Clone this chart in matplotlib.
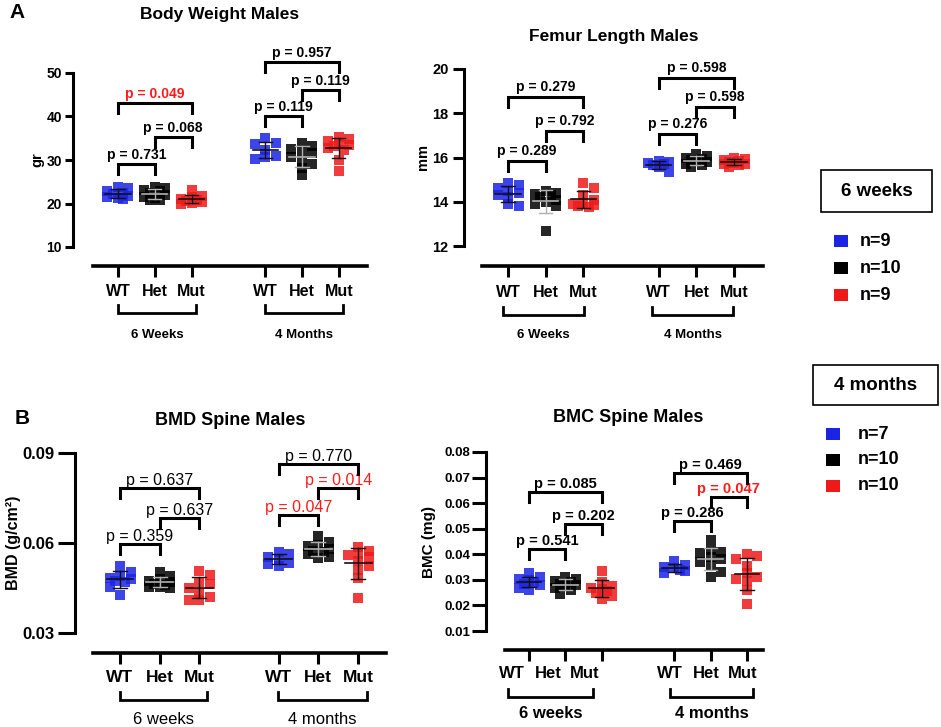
import numpy as np
import matplotlib
matplotlib.use("Agg")
import matplotlib.pyplot as plt
from matplotlib import font_manager, transforms
from matplotlib.patches import Rectangle

W, H, DPI = 941, 727, 100

# ------------------------------------------------------------------ data
categories = ["WT", "Het", "Mut"]
groups_A = ["6 Weeks", "4 Months"]
groups_B = ["6 weeks", "4 months"]
genotype_colors = ["#1c24e4", "#000000", "#ee1a1a"]
legend_titles = ["6 weeks", "4 months"]
legend_n_6wk = [9, 10, 9]
legend_n_4mo = [7, 10, 10]

# Body weight (gr)
bw_6wk_wt = [23.8, 23.5, 22.9, 22.4, 22.1, 21.8, 21.5, 21.2, 21.0]
bw_6wk_het = [23.9, 23.6, 23.2, 22.8, 22.3, 21.9, 21.6, 21.2, 20.9, 20.7]
bw_6wk_mut = [23.2, 21.8, 21.4, 21.1, 20.9, 20.6, 20.4, 20.2, 19.9]
bw_4mo_wt = [35.0, 34.0, 33.6, 32.2, 31.0, 30.6, 30.2]
bw_4mo_het = [34.0, 33.3, 32.6, 32.0, 31.5, 30.6, 29.8, 29.0, 28.2, 26.5]
bw_4mo_mut = [35.3, 34.8, 34.3, 33.8, 33.5, 33.2, 32.8, 32.3, 30.0, 27.5]
bw_yticks = [10, 20, 30, 40, 50]
bw_p_text = ["p = 0.731", "p = 0.068", "p = 0.049", "p = 0.119", "p = 0.119", "p = 0.957"]
bw_p_y = [29.1, 35.3, 43.1, 40.1, 46.1, 52.5]
bw_p_sig = [False, False, True, False, False, False]

# Femur length (mm)
fl_6wk_wt = [14.85, 14.75, 14.6, 14.5, 14.4, 14.3, 14.2, 13.9, 13.8]
fl_6wk_het = [14.5, 14.4, 14.35, 14.3, 14.2, 14.1, 14.0, 13.9, 13.8, 12.7]
fl_6wk_mut = [14.85, 14.6, 14.3, 14.1, 13.95, 13.9, 13.85, 13.8, 13.75]
fl_4mo_wt = [15.85, 15.8, 15.75, 15.7, 15.65, 15.55, 15.35]
fl_4mo_het = [16.15, 16.05, 16.0, 15.95, 15.9, 15.85, 15.8, 15.7, 15.65, 15.55]
fl_4mo_mut = [16.0, 15.95, 15.9, 15.85, 15.8, 15.75, 15.7, 15.7, 15.65, 15.55]
fl_yticks = [12, 14, 16, 18, 20]
fl_p_text = ["p = 0.289", "p = 0.792", "p = 0.279", "p = 0.276", "p = 0.598", "p = 0.598"]
fl_p_y = [15.85, 17.2, 18.75, 17.05, 18.3, 19.6]
fl_p_sig = [False] * 6

# BMD spine (g/cm2)
bmd_6wk_wt = [0.0525, 0.0505, 0.049, 0.0485, 0.048, 0.0475, 0.047, 0.0455, 0.0428]
bmd_6wk_het = [0.0505, 0.049, 0.048, 0.0475, 0.047, 0.0465, 0.046, 0.0455, 0.0455, 0.045]
bmd_6wk_mut = [0.0507, 0.0495, 0.047, 0.0465, 0.045, 0.0435, 0.042, 0.041, 0.041]
bmd_4mo_wt = [0.057, 0.0565, 0.0555, 0.0545, 0.0535, 0.053, 0.0525]
bmd_4mo_het = [0.0625, 0.0605, 0.0595, 0.059, 0.058, 0.0575, 0.057, 0.0565, 0.0555, 0.055]
bmd_4mo_mut = [0.0588, 0.0575, 0.0565, 0.056, 0.0555, 0.054, 0.0525, 0.051, 0.0485, 0.0418]
bmd_yticks = [0.03, 0.06, 0.09]
bmd_p_text = ["p = 0.359", "p = 0.637", "p = 0.637", "p = 0.047", "p = 0.014", "p = 0.770"]
bmd_p_y = [0.0598, 0.0683, 0.0783, 0.0693, 0.0783, 0.0863]
bmd_p_sig = [False, False, False, True, True, False]

# BMC spine (mg)
bmc_6wk_wt = [0.0325, 0.031, 0.0305, 0.030, 0.029, 0.0285, 0.028, 0.027, 0.026]
bmc_6wk_het = [0.031, 0.0305, 0.0295, 0.029, 0.0285, 0.028, 0.0275, 0.027, 0.026, 0.0245]
bmc_6wk_mut = [0.0335, 0.029, 0.0275, 0.027, 0.0265, 0.0255, 0.025, 0.0235, 0.0225]
bmc_4mo_wt = [0.0375, 0.036, 0.035, 0.0345, 0.034, 0.0335, 0.0325]
bmc_4mo_het = [0.0455, 0.0415, 0.041, 0.0405, 0.039, 0.038, 0.037, 0.0355, 0.033, 0.031]
bmc_4mo_mut = [0.040, 0.0395, 0.038, 0.0355, 0.0325, 0.031, 0.0305, 0.0295, 0.026, 0.0205]
bmc_yticks = [0.01, 0.02, 0.03, 0.04, 0.05, 0.06, 0.07, 0.08]
bmc_p_text = ["p = 0.541", "p = 0.202", "p = 0.085", "p = 0.286", "p = 0.047", "p = 0.469"]
bmc_p_y = [0.0421, 0.0519, 0.0644, 0.053, 0.0624, 0.0718]
bmc_p_sig = [False, False, False, False, True, False]

p_pairs = [(0, 1), (1, 2), (0, 2), (3, 4), (4, 5), (3, 5)]
cat_positions = [0, 1, 2, 4, 5, 6]

# ------------------------------------------------------------------ fonts
plt.rcParams["font.family"] = ["Liberation Sans", "DejaVu Sans"]
ARIAL = dict(family=["Liberation Sans", "DejaVu Sans"])
_names = {f.name for f in font_manager.fontManager.ttflist}
NARROW = dict(family=["Liberation Sans Narrow", "Liberation Sans", "DejaVu Sans"]) \
    if "Liberation Sans Narrow" in _names else ARIAL

fig = plt.figure(figsize=(W / DPI, H / DPI), dpi=DPI)


def fy(py):
    return 1 - py / H


def fx(px):
    return px / W


def swarm_offsets(vals, ppu_x, ppu_y, size_px):
    """Deterministic compact swarm: offsets limited to about one marker width."""
    vals = np.asarray(vals, float)
    order = np.argsort(-vals)
    placed = []
    offs = np.zeros(len(vals))
    cands = [0.0, 0.5, -0.5, 1.0, -1.0]
    thr = 0.62 * size_px
    for idx in order:
        yv = vals[idx] * ppu_y
        best, best_cost = 0.0, None
        for c in cands:
            cx = c * size_px
            cost = 0.0
            for a, b in placed:
                ox = max(0.0, thr - abs(cx - a))
                oy = max(0.0, thr - abs(yv - b))
                cost += ox * oy
            cost += 0.01 * abs(c)
            if best_cost is None or cost < best_cost - 1e-9:
                best, best_cost = cx, cost
        placed.append((best, yv))
        offs[idx] = best / ppu_x
    return offs


def draw_panel(P):
    left, top, bottom = P["left"], P["top"], P["bottom"]
    x0, unit = P["x0"], P["unit"]
    lx0, lx1 = P["line_x"]
    ax = fig.add_axes([fx(left), fy(bottom), (lx1 - left) / W, (bottom - top) / H])
    ax.set_xlim((left - x0) / unit, (lx1 - x0) / unit)
    ax.set_ylim(*P["ylim"])
    ax.patch.set_alpha(0)
    ppu_y = (bottom - top) / (P["ylim"][1] - P["ylim"][0])

    for s in ("top", "right"):
        ax.spines[s].set_visible(False)
    ax.spines["left"].set_linewidth(2.2)
    ax.spines["bottom"].set_linewidth(2.6)
    ax.spines["bottom"].set_position(("outward", (P["line_y"] - bottom) * 72 / DPI))
    ax.spines["bottom"].set_bounds((lx0 - x0) / unit, (lx1 - x0) / unit)
    ax.set_xticks(cat_positions)
    ax.set_xticklabels([])
    ax.tick_params(axis="x", length=8, width=2.2, direction="out")
    ax.set_yticks(P["yticks"])
    ax.set_yticklabels(P["yticklabels"], fontsize=P["ytick_fs"], fontweight="bold", **P["tickfont"])
    ax.tick_params(axis="y", length=P["ytick_len"], width=2.2, direction="out", pad=P["ytick_pad"])

    # points + mean/SD
    size_px = 10.5
    for k, vals in enumerate(P["data"]):
        pos = cat_positions[k]
        col = genotype_colors[k % 3]
        offs = swarm_offsets(vals, unit, ppu_y, size_px)
        ax.scatter(pos + offs, vals, marker="s", s=(size_px * 72 / DPI) ** 2, color=col,
                   alpha=0.85, linewidths=0, clip_on=False, zorder=3)
        m = np.mean(vals)
        sd = np.std(vals, ddof=1)
        ec = "#b0b0b0" if k % 3 == 1 else "#111111"
        ax.plot([pos - 0.34, pos + 0.34], [m, m], color=ec, lw=1.2, zorder=4, clip_on=False)
        ax.plot([pos, pos], [m - sd, m + sd], color=ec, lw=1.0, zorder=4, clip_on=False)
        for yy in (m - sd, m + sd):
            ax.plot([pos - 0.18, pos + 0.18], [yy, yy], color=ec, lw=1.0, zorder=4, clip_on=False)

    # p-value brackets
    drop = 10 / ppu_y
    for (i, j), txt, yv, sig in zip(p_pairs, P["p_text"], P["p_y"], P["p_sig"]):
        xa, xb = cat_positions[i], cat_positions[j]
        ax.plot([xa, xa, xb, xb], [yv - drop, yv, yv, yv - drop], color="black", lw=2.2,
                solid_joinstyle="miter", clip_on=False, zorder=5)
        ax.annotate(txt, xy=((xa + xb) / 2, yv), xytext=(0, P["p_off"] * 72 / DPI),
                    textcoords="offset points", ha="center", va="baseline",
                    fontsize=P["p_fs"], fontweight=P["p_weight"],
                    color="#ff1a1a" if sig else "black", **P["pfont"], annotation_clip=False)

    # category labels, group brackets and group names
    tr = transforms.blended_transform_factory(ax.transData, fig.transFigure)
    for g in range(2):
        shift = P["cat_shift"][g] / unit
        for c in range(3):
            ax.text(cat_positions[g * 3 + c] + shift, fy(P["cat_y"]), categories[c], transform=tr,
                    ha="center", va="center", fontsize=P["cat_fs"], fontweight="bold",
                    **P["catfont"], clip_on=False)
        xa = (P["gb_x"][g][0] - x0) / unit
        xb = (P["gb_x"][g][1] - x0) / unit
        gy = fy(P["gb_y"])
        gy2 = fy(P["gb_y"] - 8)
        ax.plot([xa, xa, xb, xb], [gy2, gy, gy, gy2], transform=tr, color="black", lw=2.0,
                clip_on=False, solid_joinstyle="miter")
        ax.text((xa + xb) / 2, fy(P["gtext_y"]), P["groups"][g], transform=tr, ha="center",
                va="center", fontsize=P["group_fs"], fontweight=P["group_weight"],
                **P["groupfont"], clip_on=False)

    fig.text(fx(P["title_xy"][0]), fy(P["title_xy"][1]), P["title"], ha="center", va="center",
             fontsize=P["title_fs"], fontweight="bold", **ARIAL)
    fig.text(fx(P["ylabel_x"]), fy((top + bottom) / 2), P["ylabel"], rotation=90, ha="center",
             va="center", fontsize=P["ylabel_fs"], fontweight="bold", **ARIAL)
    return ax


panels = [
    dict(data=[bw_6wk_wt, bw_6wk_het, bw_6wk_mut, bw_4mo_wt, bw_4mo_het, bw_4mo_mut],
         ylim=(10, 50), yticks=bw_yticks, yticklabels=[str(v) for v in bw_yticks],
         p_text=bw_p_text, p_y=bw_p_y, p_sig=bw_p_sig, groups=groups_A,
         title="Body Weight Males", ylabel="gr",
         left=73, top=73, bottom=247, x0=118, unit=36.8, line_y=266, line_x=(93, 367),
         cat_y=292, gb_y=313, gtext_y=335, gb_x=[(118, 196), (265, 343)], cat_shift=[0, 0],
         title_xy=(220, 14), ylabel_x=37, ytick_len=6, ytick_pad=2,
         ytick_fs=10, p_fs=10, p_weight="bold", p_off=5, cat_fs=11.5, group_fs=9.5,
         group_weight="bold", title_fs=12.5, ylabel_fs=10.5,
         tickfont=ARIAL, pfont=ARIAL, catfont=ARIAL, groupfont=ARIAL),
    dict(data=[fl_6wk_wt, fl_6wk_het, fl_6wk_mut, fl_4mo_wt, fl_4mo_het, fl_4mo_mut],
         ylim=(12, 20), yticks=fl_yticks, yticklabels=[str(v) for v in fl_yticks],
         p_text=fl_p_text, p_y=fl_p_y, p_sig=fl_p_sig, groups=groups_A,
         title="Femur Length Males", ylabel="mm",
         left=464, top=69, bottom=246, x0=508, unit=37.67, line_y=266, line_x=(482, 763),
         cat_y=293, gb_y=315, gtext_y=335, gb_x=[(503, 584), (652, 733)], cat_shift=[0, 0],
         title_xy=(614, 36), ylabel_x=423, ytick_len=8, ytick_pad=3,
         ytick_fs=10.5, p_fs=10, p_weight="bold", p_off=6, cat_fs=11.5, group_fs=9.5,
         group_weight="bold", title_fs=12.5, ylabel_fs=10.5,
         tickfont=ARIAL, pfont=ARIAL, catfont=ARIAL, groupfont=ARIAL),
    dict(data=[bmd_6wk_wt, bmd_6wk_het, bmd_6wk_mut, bmd_4mo_wt, bmd_4mo_het, bmd_4mo_mut],
         ylim=(0.03, 0.09), yticks=bmd_yticks, yticklabels=["%.2f" % v for v in bmd_yticks],
         p_text=bmd_p_text, p_y=bmd_p_y, p_sig=bmd_p_sig, groups=groups_B,
         title="BMD Spine Males", ylabel="BMD (g/cm²)",
         left=75, top=453, bottom=633, x0=120, unit=39.67, line_y=653, line_x=(93, 386),
         cat_y=677, gb_y=700, gtext_y=719, gb_x=[(120, 207), (278, 367)], cat_shift=[0, 0],
         title_xy=(230, 420), ylabel_x=14, ytick_len=12, ytick_pad=3,
         ytick_fs=12, p_fs=11.5, p_weight="normal", p_off=3, cat_fs=12.5, group_fs=12,
         group_weight="normal", title_fs=13, ylabel_fs=11.5,
         tickfont=NARROW, pfont=NARROW, catfont=NARROW, groupfont=NARROW),
    dict(data=[bmc_6wk_wt, bmc_6wk_het, bmc_6wk_mut, bmc_4mo_wt, bmc_4mo_het, bmc_4mo_mut],
         ylim=(0.01, 0.08), yticks=bmc_yticks, yticklabels=["%.2f" % v for v in bmc_yticks],
         p_text=bmc_p_text, p_y=bmc_p_y, p_sig=bmc_p_sig, groups=groups_B,
         title="BMC Spine Males", ylabel="BMC (mg)",
         left=486, top=452, bottom=631, x0=529, unit=36.33, line_y=650, line_x=(505, 763),
         cat_y=673, gb_y=697, gtext_y=713, gb_x=[(508, 593), (670, 753)], cat_shift=[-17, -4],
         title_xy=(628, 418), ylabel_x=429, ytick_len=10, ytick_pad=1.5,
         ytick_fs=9.5, p_fs=10.5, p_weight="bold", p_off=4, cat_fs=12, group_fs=12,
         group_weight="bold", title_fs=13, ylabel_fs=11,
         tickfont=ARIAL, pfont=ARIAL, catfont=ARIAL, groupfont=ARIAL),
]

for P in panels:
    draw_panel(P)

fig.text(fx(17), fy(13), "A", ha="center", va="center", fontsize=15, fontweight="bold", **ARIAL)
fig.text(fx(22), fy(418), "B", ha="center", va="center", fontsize=15, fontweight="bold", **ARIAL)

# legend blocks
legend_specs = [
    dict(title=legend_titles[0], ns=legend_n_6wk, box=(821, 170, 932, 212), sq_x=841, txt_x=860,
         rows=[241, 268, 295]),
    dict(title=legend_titles[1], ns=legend_n_4mo, box=(813, 365, 938, 405), sq_x=833, txt_x=858,
         rows=[434, 460, 486]),
]
for L in legend_specs:
    x1, y1, x2, y2 = L["box"]
    fig.patches.append(Rectangle((fx(x1), fy(y2)), (x2 - x1) / W, (y2 - y1) / H,
                                 transform=fig.transFigure, fill=False, ec="black", lw=1.2))
    fig.text(fx((x1 + x2) / 2), fy((y1 + y2) / 2), L["title"], ha="center", va="center",
             fontsize=13.5, fontweight="bold", **ARIAL)
    for col, n, ry in zip(genotype_colors, L["ns"], L["rows"]):
        fig.patches.append(Rectangle((fx(L["sq_x"] - 7), fy(ry + 6)), 14 / W, 12 / H,
                                     transform=fig.transFigure, color=col, lw=0))
        fig.text(fx(L["txt_x"]), fy(ry), "n=%d" % n, ha="left", va="center",
                 fontsize=13, fontweight="bold", **ARIAL)

fig.savefig("out.png", dpi=DPI)
